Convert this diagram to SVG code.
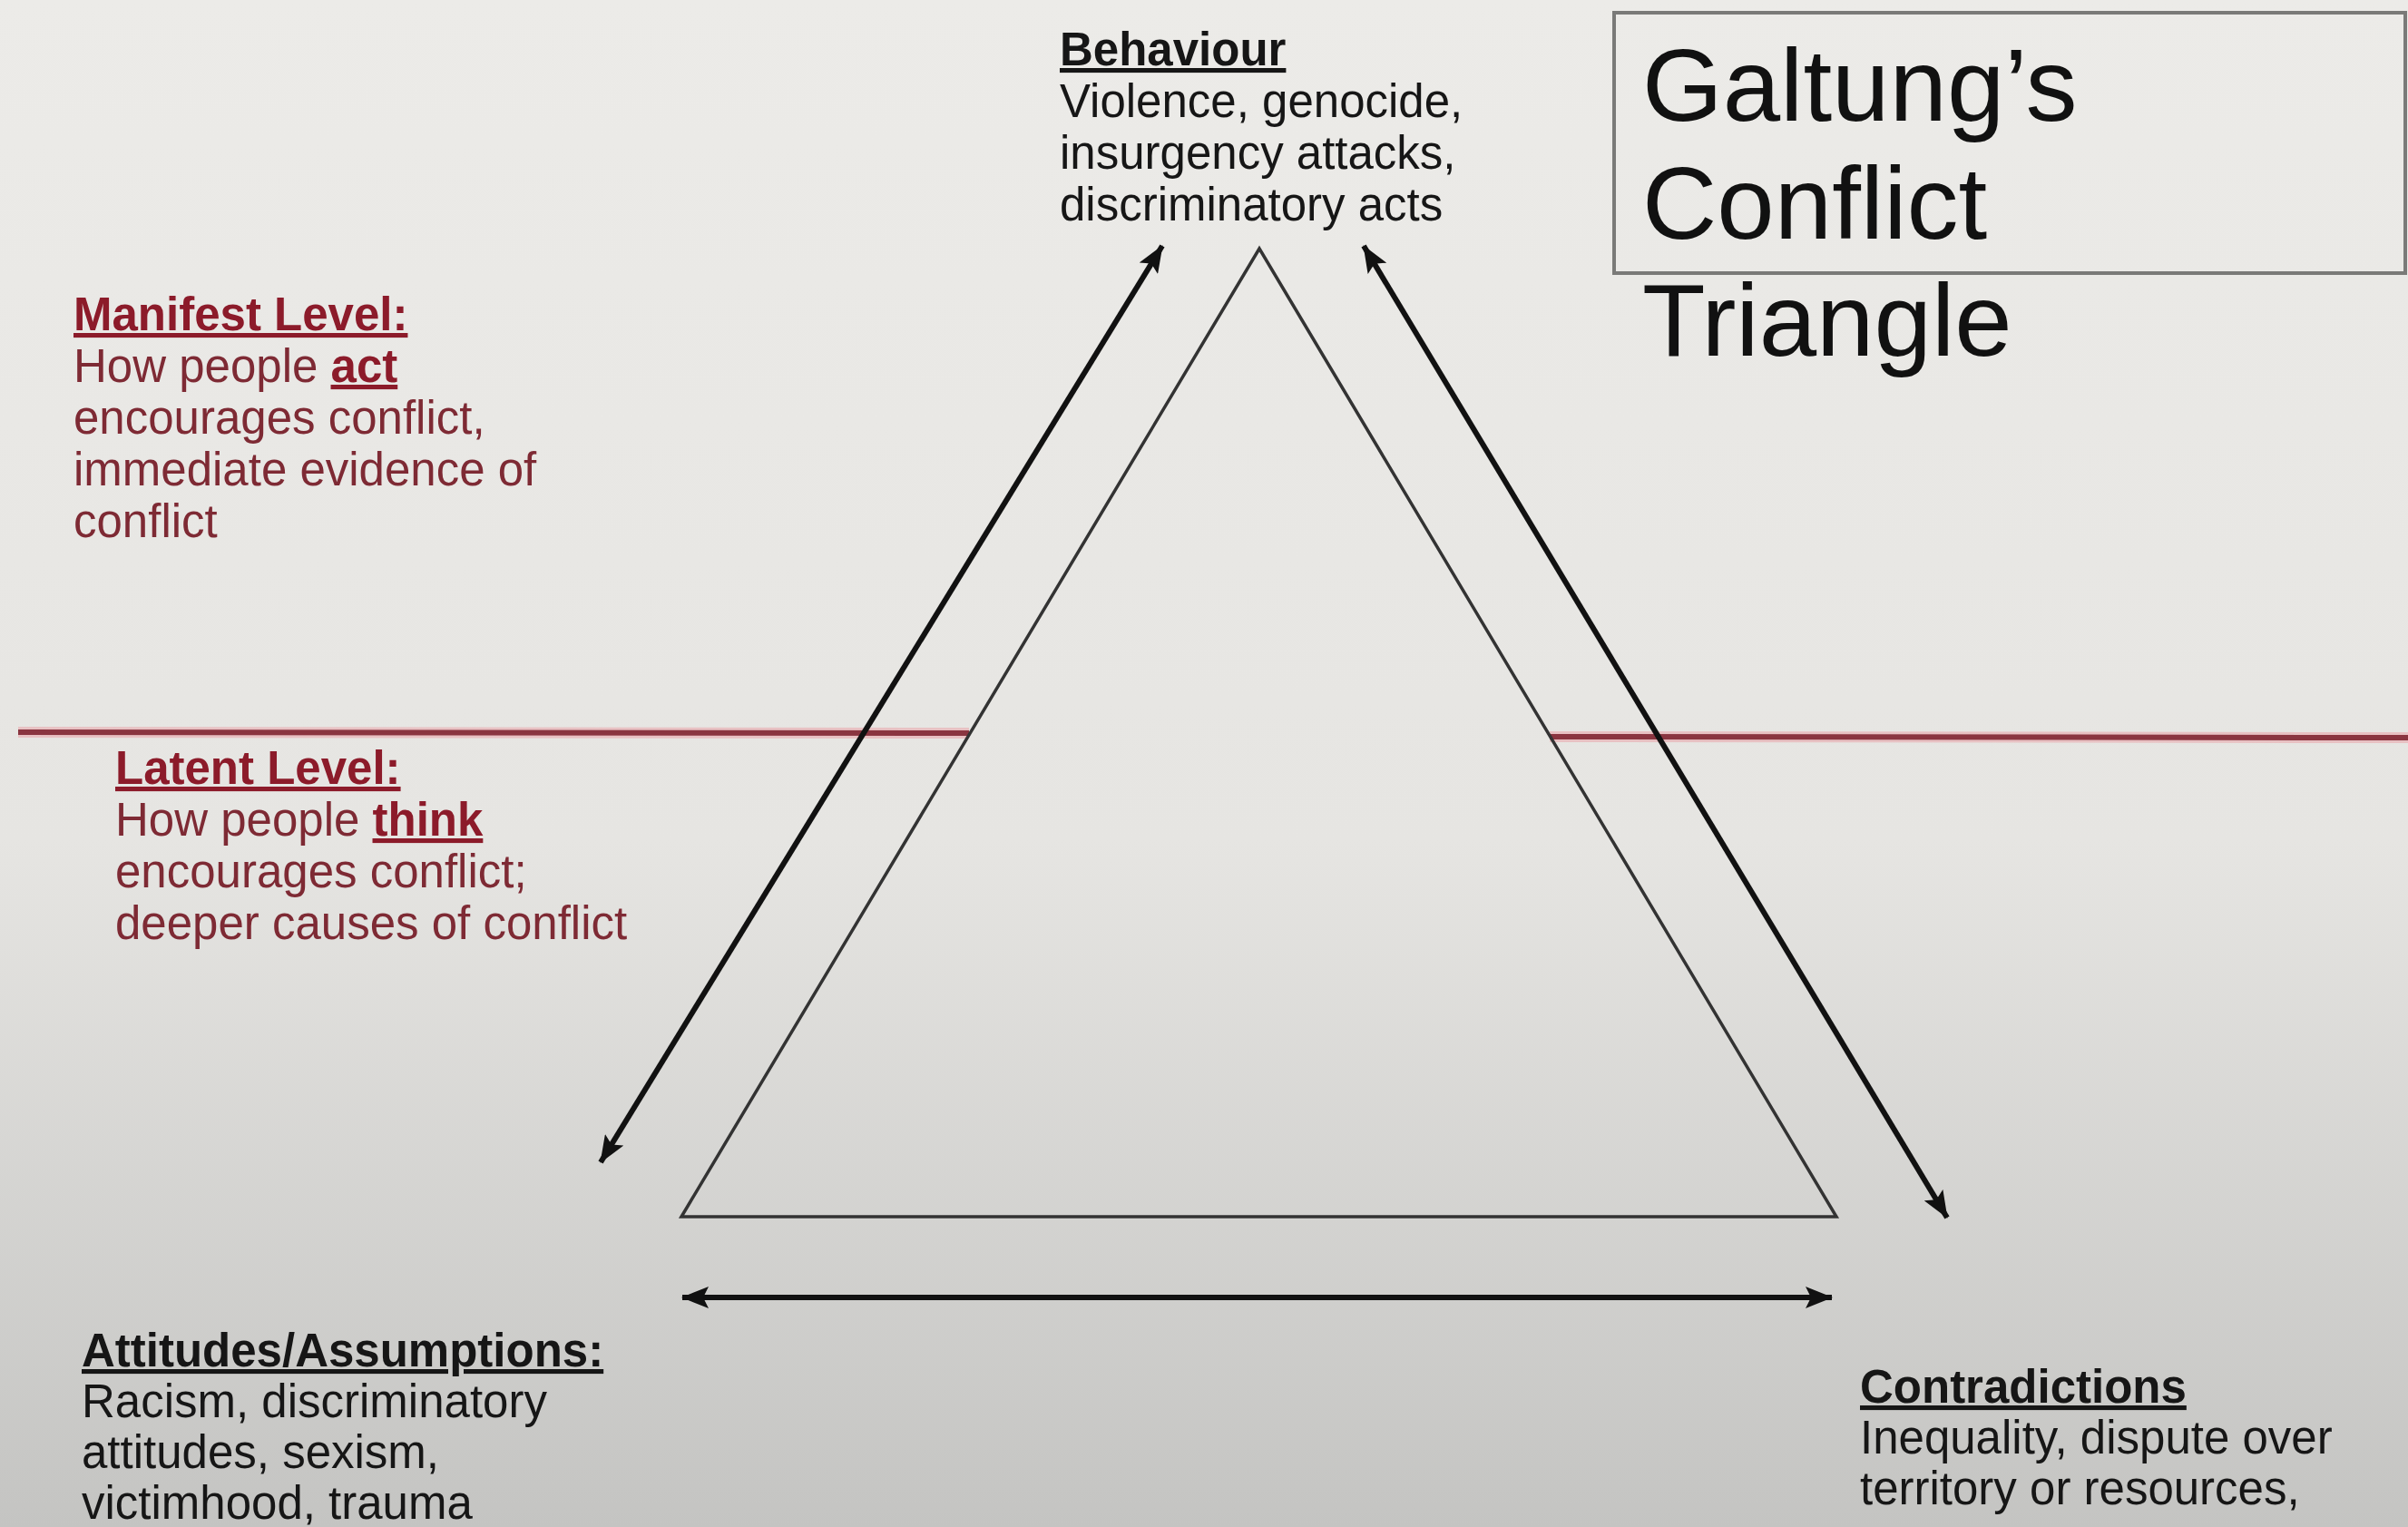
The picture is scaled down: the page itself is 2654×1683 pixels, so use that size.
<svg xmlns="http://www.w3.org/2000/svg" width="2654" height="1683" viewBox="0 0 2654 1683">
<defs>
<linearGradient id="bg" x1="0" y1="0" x2="0" y2="1">
<stop offset="0" stop-color="#ecebe8"/>
<stop offset="0.55" stop-color="#e6e5e2"/>
<stop offset="1" stop-color="#c4c4c2"/>
</linearGradient>
<marker id="ah" viewBox="0 0 30 24" refX="29" refY="12" markerWidth="30" markerHeight="24" markerUnits="userSpaceOnUse" orient="auto-start-reverse">
<path d="M0,0 L30,12 L0,24 L6,12 z" fill="#111"/>
</marker>
<style>
text{font-family:"Liberation Sans",Arial,Helvetica,sans-serif;font-size:51px}
.blk{fill:#161616}
.hd{font-weight:bold;text-decoration:underline}
.red{fill:#7e2a34}
.redhd{fill:#8c1b2a;font-weight:bold;text-decoration:underline}
.title{font-size:114px;fill:#111}
.arrow{stroke:#111;stroke-width:6;fill:none;marker-start:url(#ah);marker-end:url(#ah)}
.halo{stroke:#e9a9ad;stroke-width:12;fill:none;opacity:0.6}
.level{stroke:#8a3540;stroke-width:6;fill:none}
</style>
</defs>
<rect x="0" y="0" width="2654" height="1683" fill="url(#bg)"/>

<g id="levels">
<line class="halo" x1="20" y1="807" x2="1068" y2="808"/>
<line class="halo" x1="1708" y1="812" x2="2654" y2="813"/>
<line class="level" x1="20" y1="807" x2="1068" y2="808"/>
<line class="level" x1="1708" y1="812" x2="2654" y2="813"/>
</g>

<g id="triangle">
<polygon points="1388,274 751,1341 2024,1341" fill="none" stroke="#333" stroke-width="3.5"/>
</g>

<g id="connectors">
<line class="arrow" x1="1281" y1="271" x2="662" y2="1281"/>
<line class="arrow" x1="1503" y1="271" x2="2146" y2="1342"/>
<line class="arrow" x1="752" y1="1430" x2="2019" y2="1430"/>
</g>

<g id="title">
<rect x="1779" y="14" width="872" height="287" fill="none" stroke="#7a7a78" stroke-width="4"/>
<text class="title" x="1810" y="133">Galtung’s</text>
<text class="title" x="1810" y="263">Conflict</text>
<text class="title" x="1810" y="392">Triangle</text>
</g>

<g id="behaviour">
<text class="blk hd" x="1168" y="72">Behaviour</text>
<text class="blk" x="1168" y="129">Violence, genocide,</text>
<text class="blk" x="1168" y="186">insurgency attacks,</text>
<text class="blk" x="1168" y="243">discriminatory acts</text>
</g>

<g id="manifest">
<text class="redhd" x="81" y="364">Manifest Level:</text>
<text class="red" x="81" y="421">How people <tspan class="redhd">act</tspan></text>
<text class="red" x="81" y="478">encourages conflict,</text>
<text class="red" x="81" y="535">immediate evidence of</text>
<text class="red" x="81" y="592">conflict</text>
</g>

<g id="latent">
<text class="redhd" x="127" y="864">Latent Level:</text>
<text class="red" x="127" y="921">How people <tspan class="redhd">think</tspan></text>
<text class="red" x="127" y="978">encourages conflict;</text>
<text class="red" x="127" y="1035">deeper causes of conflict</text>
</g>

<g id="attitudes">
<text class="blk hd" x="90" y="1506">Attitudes/Assumptions:</text>
<text class="blk" x="90" y="1562">Racism, discriminatory</text>
<text class="blk" x="90" y="1618">attitudes, sexism,</text>
<text class="blk" x="90" y="1674">victimhood, trauma</text>
</g>

<g id="contradictions">
<text class="blk hd" x="2050" y="1546">Contradictions</text>
<text class="blk" x="2050" y="1602">Inequality, dispute over</text>
<text class="blk" x="2050" y="1658">territory or resources,</text>
</g>
</svg>
